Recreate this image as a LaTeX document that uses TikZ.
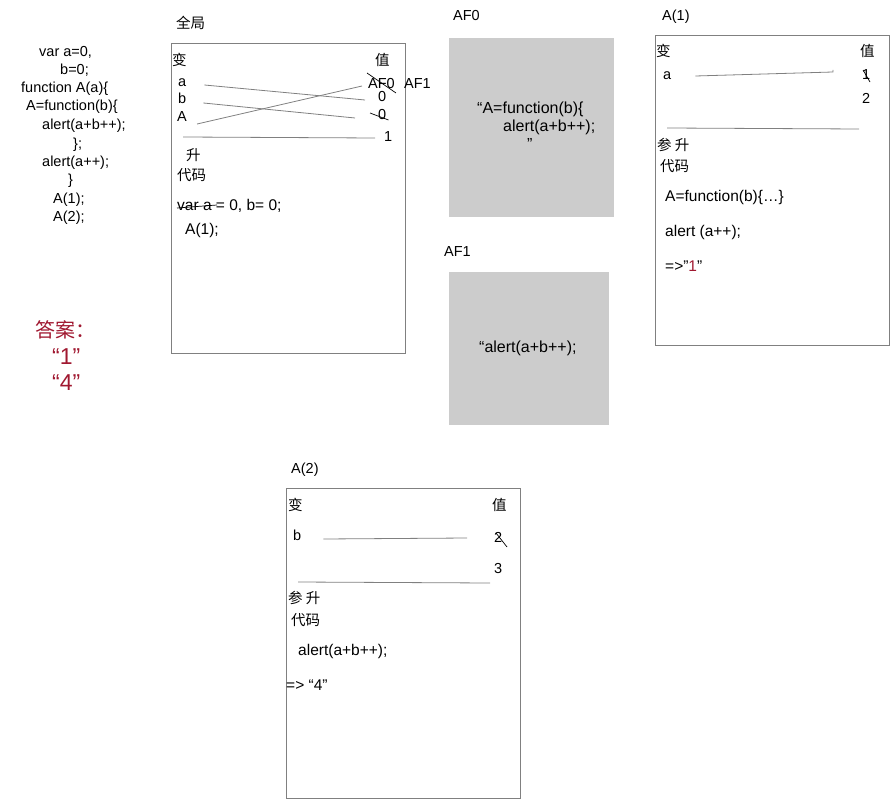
\documentclass[tikz,border=0pt]{standalone}
\usepackage{fontspec}
\setmainfont{Liberation Sans}
\newfontfamily\cjk{Noto Sans CJK SC}
\definecolor{ansred}{RGB}{160,24,48}
\definecolor{cellgray}{RGB}{204,204,204}
\definecolor{edgegray}{RGB}{128,128,128}

\begin{document}
\begin{tikzpicture}[x=1pt,y=-1pt,
  every node/.style={anchor=west,inner sep=0pt,text height=1.5ex,text depth=.25ex,
    font=\fontsize{14.5}{17}\selectfont},
  zh/.style={font=\cjk\fontsize{14.5}{17}\selectfont},
  src/.style={font=\fontsize{15.5}{18}\selectfont},
  cellsrc/.style={font=\fontsize{16}{19}\selectfont},
  frame/.style={draw=edgegray,line width=.8pt},
  cell/.style={fill=cellgray},
  link/.style={draw=edgegray,line width=.8pt},
  cross/.style={draw=black,line width=.7pt}]
  \useasboundingbox (0,0) rectangle (890,799);

  \node (c0) at (39,53)  {var a=0,};
  \node (c1) at (60,71)  {b=0;};
  \node (c2) at (21,89)  {function A(a)\{};
  \node (c3) at (26,107) {A=function(b)\{};
  \node (c4) at (42,126) {alert(a+b++);};
  \node (c5) at (73,145) {\};};
  \node (c6) at (42,163) {alert(a++);};
  \node (c7) at (68,181) {\}};
  \node (c8) at (53,200) {A(1);};
  \node (c9) at (53,218) {A(2);};

  \node[font=\cjk\fontsize{20}{22}\selectfont,text=ansred] (ans) at (35,334) {答案：};
  \node[font=\fontsize{23}{26}\selectfont,text=ansred] (ans1) at (52,361) {“1”};
  \node[font=\fontsize{23}{26}\selectfont,text=ansred] (ans4) at (52,387) {“4”};

  \node[zh] (gt) at (176,25) {全局};
  \draw[frame] (171,43) rectangle (405,353);
  \node[zh] (gk) at (172,62) {变};
  \node[zh] (gvh) at (375,62) {值};
  \node (ga) at (178,83) {a};
  \node (gb) at (178,100) {b};
  \node (gA) at (177,118) {A};
  \node (gv0) at (368,85) {AF0};
  \node (gv0b) at (404,85) {AF1};
  \node (gv1) at (378,98) {0};
  \node (gv2) at (378,116) {0};
  \node (gv3) at (384,138) {1};
  \draw[link] ([shift={(18,2)}]ga.east) -- ([shift={(-13,2)}]gv1.west);
  \draw[link] ([shift={(17,3)}]gb.east) -- ([shift={(-23,2)}]gv2.west);
  \draw[link] ([shift={(10,6)}]gA.east) -- ([shift={(-6,1)}]gv0.west);
  \draw[link] ([shift={(6,19)}]gA.west) -- ([shift={(-9,0)}]gv3.west);
  \draw[cross] ([shift={(-1,-12)}]gv0.west) -- ([shift={(1,8)}]gv0.east);
  \draw[cross] ([shift={(-8,-3)}]gv2.west) -- ([shift={(2,4)}]gv2.east);
  \node[zh] (gup) at (186,157) {升};
  \node[zh] (gcode) at (177,177) {代码};
  \node[src] (gl1) at (177,207) {var a = 0, b= 0;};
  \draw[cross] ([yshift=-1]gl1.west) -- ([shift={(40,-2)}]gl1.west);
  \node[src] (gl2) at (185,231) {A(1);};

  \node (af0) at (453,17) {AF0};
  \fill[cell] (449,38) rectangle (614,217);
  \node[cellsrc] (af0a) at (477,110) {“A=function(b)\{};
  \node[cellsrc] (af0b) at (503,128) {alert(a+b++);};
  \node[cellsrc] (af0c) at (527,146) {”};

  \node (af1) at (444,253) {AF1};
  \fill[cell] (449,272) rectangle (609,425);
  \node[cellsrc] (af1a) at (479,349) {“alert(a+b++);};

  \node (f1t) at (662,17) {A(1)};
  \draw[frame] (655,35) rectangle (889,345);
  \node[zh] (f1k) at (656,53) {变};
  \node[zh] (f1vh) at (860,53) {值};
  \node (fa) at (663,76) {a};
  \node (fv1) at (862,76) {1};
  \node (fv2) at (862,100) {2};
  \draw[link] ([shift={(24,0)}]fa.east) -- ([shift={(-29,-4)}]fv1.west) -- ++(0,-2);
  \draw[cross] ([shift={(1,-6)}]fv1.west) -- ([shift={(8,6)}]fv1.west);
  \draw[link] ([shift={(4,52)}]fa.west) -- ([shift={(-3,29)}]fv2.west);
  \node[zh] (f1p) at (657,147) {参 升};
  \node[zh] (f1code) at (660,168) {代码};
  \node[src] (f1l1) at (665,198) {A=function(b)\{…\}};
  \node[src] (f1l2) at (665,233) {alert (a++);};
  \node[src] (f1l3) at (665,268) {=>”{\color{ansred}1}”};

  \node (f2t) at (291,470) {A(2)};
  \draw[frame] (286,488) rectangle (520,798);
  \node[zh] (f2k) at (288,507) {变};
  \node[zh] (f2vh) at (492,507) {值};
  \node (sb) at (293,537) {b};
  \node (sv1) at (494,539) {2};
  \node (sv2) at (494,570) {3};
  \draw[link] ([shift={(22,2)}]sb.east) -- ([shift={(-27,-1)}]sv1.west);
  \draw[cross] ([shift={(2,-6)}]sv1.west) -- ([shift={(13,8)}]sv1.west);
  \draw[link] ([shift={(5,45)}]sb.west) -- ([shift={(-4,13)}]sv2.west);
  \node[zh] (f2p) at (288,600) {参 升};
  \node[zh] (f2code) at (291,622) {代码};
  \node[src] (f2l1) at (298,652) {alert(a+b++);};
  \node[src] (f2l2) at (286,687) {=> “4”};
\end{tikzpicture}
\end{document}
